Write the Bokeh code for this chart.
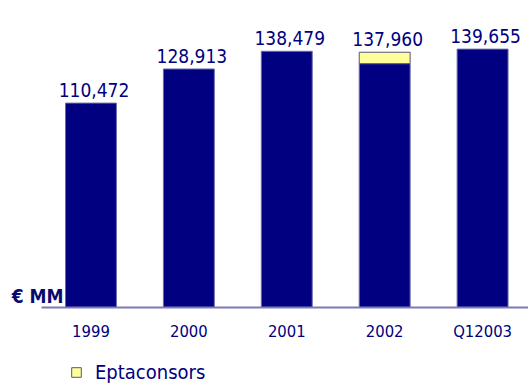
from bokeh.plotting import figure
from bokeh.models import Range1d, ColumnDataSource, FixedTicker, Label, Legend, LegendItem
from bokeh.core.properties import value
from bokeh.embed import file_html
from bokeh.resources import INLINE

categories = ["1999", "2000", "2001", "2002", "Q12003"]
totals = [110472, 128913, 138479, 137960, 139655]
eptaconsors = [0, 0, 0, 6160, 0]
value_labels = ["110,472", "128,913", "138,479", "137,960", "139,655"]

FONT = "DejaVu Sans Condensed"
NAVY = "#000080"

xs = list(range(len(categories)))
base = [t - e for t, e in zip(totals, eptaconsors)]

src = ColumnDataSource(dict(x=xs, base=base, total=totals, lab=value_labels))
ex = [x for x, e in zip(xs, eptaconsors) if e > 0]
eb = [b for b, e in zip(base, eptaconsors) if e > 0]
et = [t for t, e in zip(totals, eptaconsors) if e > 0]
esrc = ColumnDataSource(dict(x=ex, bottom=eb, top=et))

p = figure(width=528, height=385,
           x_range=Range1d(-0.924, 4.469), y_range=Range1d(-42160, 165930),
           output_backend="svg", toolbar_location=None, y_axis_location=None,
           min_border_left=0, min_border_right=0, min_border_top=0, min_border_bottom=0)
p.outline_line_color = None
p.xgrid.visible = False
p.ygrid.visible = False

p.vbar(x="x", bottom=0, top="base", width=0.52, source=src,
       fill_color=NAVY, line_color="#6a6aa8", line_width=1)
r_epta = p.vbar(x="x", bottom="bottom", top="top", width=0.52, source=esrc,
                fill_color="#ffff99", line_color="#55557a", line_width=1)

p.text(x="x", y="total", text="lab", source=src, text_align="center",
       text_baseline="alphabetic", y_offset=-13, x_offset=3, text_color=NAVY,
       text_font=value(FONT), text_font_size="19px")

ax = p.xaxis[0]
ax.fixed_location = 0
ax.ticker = FixedTicker(ticks=xs)
ax.major_label_overrides = {x: c for x, c in zip(xs, categories)}
ax.bounds = (-0.505, 4.469)
ax.axis_line_color = "#7b7bb5"
ax.axis_line_width = 2
ax.major_tick_line_color = None
ax.minor_tick_line_color = None
ax.major_label_standoff = 9
ax.major_label_text_font = FONT
ax.major_label_text_font_size = "16.5px"
ax.major_label_text_color = NAVY

p.add_layout(Label(x=63, y=90, x_units="screen", y_units="screen", text="€ MM",
                   text_align="right", text_baseline="alphabetic",
                   text_font=FONT, text_font_size="19px", text_font_style="bold",
                   text_color="#0a0a6e"))

legend = Legend(items=[LegendItem(label="Eptaconsors", renderers=[r_epta])],
                location=(70, 1), padding=0, spacing=0, margin=0,
                glyph_width=12, glyph_height=12, label_height=22, label_standoff=13,
                label_text_font=FONT, label_text_font_size="20px", label_text_color=NAVY,
                border_line_color=None, background_fill_alpha=0)
p.add_layout(legend)

open("out.html", "w").write(file_html(p, INLINE))
